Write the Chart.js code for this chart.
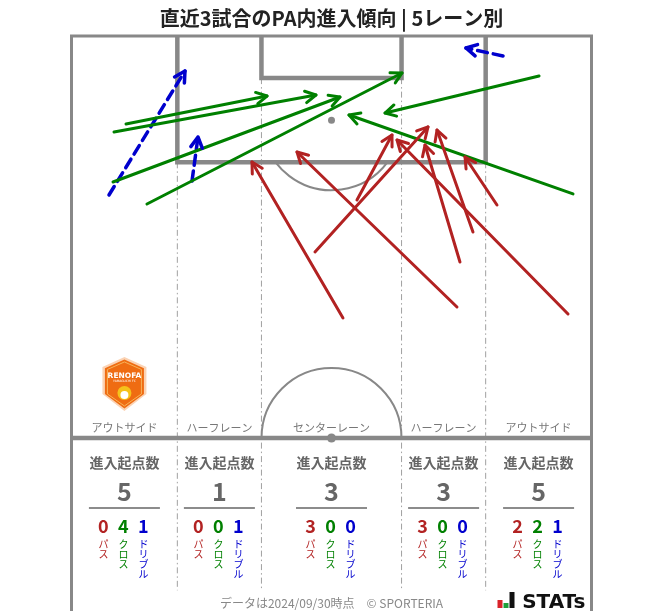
<!DOCTYPE html>
<html><head><meta charset="utf-8">
<script src="https://cdn.jsdelivr.net/npm/chart.js@4/dist/chart.umd.min.js"></script>
<style>html,body{margin:0;padding:0;background:#fff;}#wrap{width:663px;height:611px;}</style>
</head><body><div id="wrap"><canvas id="c" width="663" height="611"></canvas></div>
<script>
// ---- data (pitch metres: x across 0-68, y from goal line) ----
const lanes = ['アウトサイド','ハーフレーン','センターレーン','ハーフレーン','アウトサイド'];
const laneEdges = [0, 13.84, 24.84, 43.16, 54.16, 68];
const totalCounts = [5, 1, 3, 3, 5];
const passCounts = [0, 0, 3, 3, 2];
const crossCounts = [4, 0, 0, 0, 2];
const dribbleCounts = [1, 1, 0, 0, 1];
const kindLabels = ['パス', 'クロス', 'ドリブル'];
// [startX, startY, endX, endY]
const passArrows = [
  [35.50, 36.83, 23.60, 16.46],
  [31.84, 28.21, 46.62, 11.88],
  [37.33, 21.42, 41.91, 12.93],
  [50.41, 35.39, 29.49, 15.15],
  [50.80, 29.52, 46.23, 14.24],
  [52.50, 25.60, 47.80, 12.28],
  [55.64, 22.07, 51.46, 15.80],
  [64.93, 36.31, 42.57, 13.58]
];
const crossArrows = [
  [7.13, 11.49, 25.57, 7.84],
  [5.56, 12.54, 31.97, 7.71],
  [5.43, 19.07, 35.11, 7.97],
  [9.87, 21.94, 43.22, 4.83],
  [61.14, 5.22, 41.00, 10.06],
  [65.58, 20.63, 36.29, 10.32]
];
const dribbleArrows = [
  [4.90, 20.77, 14.84, 4.57],
  [15.76, 18.94, 16.54, 13.19],
  [56.43, 2.61, 51.59, 1.57]
];
const titleText = '直近3試合のPA内進入傾向 | 5レーン別';
const footerText = 'データは2024/09/30時点　© SPORTERIA';

// pitch geometry (metres)
const PITCH_W = 68, HALF = 52.5, BOX_W = 40.32, BOX_D = 16.5, GA_W = 18.32, GA_D = 5.5, SPOT = 11, R = 9.15;

const RED = '#b22222', GREEN = '#008000', BLUE = '#0000cd';
const FONT = '"Noto Sans CJK JP", "Noto Sans", sans-serif';

function mk(arr, color, dashed) {
  return arr.map(a => ({
    data: [{x: a[0], y: a[1]}, {x: a[2], y: a[3]}],
    showLine: true, borderColor: color, backgroundColor: color,
    borderWidth: dashed ? 3.5 : 3, borderDash: dashed ? [10, 6] : [],
    borderCapStyle: 'round', pointRadius: 0, pointHoverRadius: 0
  }));
}
const datasets = [...mk(passArrows, RED, false), ...mk(crossArrows, GREEN, false), ...mk(dribbleArrows, BLUE, true)];

const pitchPlugin = {
  id: 'pitch',
  beforeDatasetsDraw(chart) {
    const {ctx, scales: {x, y}} = chart;
    const X = v => x.getPixelForValue(v), Y = v => y.getPixelForValue(v);
    const line = (x1, y1, x2, y2) => { ctx.beginPath(); ctx.moveTo(x1, y1); ctx.lineTo(x2, y2); ctx.stroke(); };
    ctx.save();
    // lane dividers
    ctx.strokeStyle = '#a0a0a0'; ctx.lineWidth = 1; ctx.setLineDash([6, 3, 1.5, 3]);
    laneEdges.slice(1, -1).forEach((e, i) => {
      const top = (i === 0 || i === 3) ? BOX_D : GA_D;
      line(X(e), Y(top), X(e), Y(72.4));
    });
    ctx.setLineDash([]);
    ctx.strokeStyle = '#888';
    // arcs
    ctx.lineWidth = 2;
    const rpx = X(R) - X(0);
    const dy = Y(BOX_D) - Y(SPOT);
    const a = Math.asin(dy / rpx);
    ctx.beginPath(); ctx.arc(X(PITCH_W / 2), Y(SPOT), rpx, a, Math.PI - a); ctx.stroke();
    ctx.beginPath(); ctx.arc(X(PITCH_W / 2), Y(HALF), rpx, Math.PI, 2 * Math.PI); ctx.stroke();
    // outer lines
    ctx.lineWidth = 3;
    ctx.beginPath(); ctx.moveTo(X(0), Y(75.1)); ctx.lineTo(X(0), Y(0)); ctx.lineTo(X(PITCH_W), Y(0)); ctx.lineTo(X(PITCH_W), Y(75.1)); ctx.stroke();
    // halfway
    ctx.lineWidth = 4.5;
    line(X(0), Y(HALF), X(PITCH_W), Y(HALF));
    // box & goal area
    const bx1 = PITCH_W / 2 - BOX_W / 2, bx2 = PITCH_W / 2 + BOX_W / 2;
    ctx.beginPath(); ctx.moveTo(X(bx1), Y(0)); ctx.lineTo(X(bx1), Y(BOX_D)); ctx.lineTo(X(bx2), Y(BOX_D)); ctx.lineTo(X(bx2), Y(0)); ctx.stroke();
    const gx1 = PITCH_W / 2 - GA_W / 2, gx2 = PITCH_W / 2 + GA_W / 2;
    ctx.beginPath(); ctx.moveTo(X(gx1), Y(0)); ctx.lineTo(X(gx1), Y(GA_D)); ctx.lineTo(X(gx2), Y(GA_D)); ctx.lineTo(X(gx2), Y(0)); ctx.stroke();
    // spots
    ctx.fillStyle = '#888';
    ctx.beginPath(); ctx.arc(X(PITCH_W / 2), Y(SPOT), 3.5, 0, 2 * Math.PI); ctx.fill();
    ctx.beginPath(); ctx.arc(X(PITCH_W / 2), Y(HALF), 4.5, 0, 2 * Math.PI); ctx.fill();
    // lane labels
    ctx.fillStyle = '#777'; ctx.font = '11px ' + FONT; ctx.textAlign = 'center'; ctx.textBaseline = 'middle';
    lanes.forEach((l, i) => ctx.fillText(l, X((laneEdges[i] + laneEdges[i + 1]) / 2), Y(HALF) - 10));
    // crest
    drawCrest(ctx, X((laneEdges[0] + laneEdges[1]) / 2), Y(HALF) - 54);
    ctx.restore();
  },
  afterDatasetsDraw(chart) {
    const {ctx} = chart;
    ctx.save();
    chart.data.datasets.forEach((ds, i) => {
      const m = chart.getDatasetMeta(i); const p0 = m.data[0], p1 = m.data[1];
      const ang = Math.atan2(p1.y - p0.y, p1.x - p0.x), L = 12, h = 0.5;
      ctx.strokeStyle = ds.borderColor; ctx.lineWidth = ds.borderWidth; ctx.setLineDash([]);
      ctx.lineCap = 'round'; ctx.lineJoin = 'round';
      ctx.beginPath();
      ctx.moveTo(p1.x - L * Math.cos(ang - h), p1.y - L * Math.sin(ang - h));
      ctx.lineTo(p1.x, p1.y);
      ctx.lineTo(p1.x - L * Math.cos(ang + h), p1.y - L * Math.sin(ang + h));
      ctx.stroke();
    });
    ctx.restore();
  },
  afterDraw(chart) {
    const {ctx, scales: {x, y}} = chart;
    const X = v => x.getPixelForValue(v);
    const yh = y.getPixelForValue(HALF);
    ctx.save();
    ctx.textAlign = 'center'; ctx.textBaseline = 'middle';
    const cols = [RED, GREEN, BLUE];
    lanes.forEach((l, i) => {
      const cx = X((laneEdges[i] + laneEdges[i + 1]) / 2);
      ctx.fillStyle = '#666';
      ctx.font = 'bold 14px ' + FONT; ctx.fillText('進入起点数', cx, yh + 25);
      ctx.font = 'bold 25px ' + FONT; ctx.fillText(String(totalCounts[i]), cx, yh + 54);
      ctx.strokeStyle = '#666'; ctx.lineWidth = 1.5;
      ctx.beginPath(); ctx.moveTo(cx - 35.5, yh + 70); ctx.lineTo(cx + 35.5, yh + 70); ctx.stroke();
      const vals = [passCounts[i], crossCounts[i], dribbleCounts[i]];
      vals.forEach((v, k) => {
        const px = cx - 21 + k * 20;
        ctx.fillStyle = cols[k];
        ctx.font = 'bold 18px ' + FONT; ctx.fillText(String(v), px, yh + 88);
        ctx.font = '10px ' + FONT;
        [...kindLabels[k]].forEach((ch, j) => ctx.fillText(ch, px, yh + 106 + j * 10));
      });
    });
    // footer
    ctx.fillStyle = '#888'; ctx.font = '12px ' + FONT;
    ctx.fillText(footerText, X(PITCH_W / 2), chart.height - 8);
    // STATs logo
    const lx = X(PITCH_W) - 94, by = chart.height - 3;
    ctx.fillStyle = '#d9232a'; ctx.fillRect(lx, by - 8, 5, 8);
    ctx.fillStyle = '#1e9e3a'; ctx.fillRect(lx + 6, by - 5, 5, 5);
    ctx.fillStyle = '#111'; ctx.fillRect(lx + 12, by - 16, 5, 16);
    ctx.font = 'bold 20px "DejaVu Sans", sans-serif'; ctx.textAlign = 'right'; ctx.textBaseline = 'alphabetic';
    ctx.fillText('STATs', X(PITCH_W) - 6, by);
    ctx.restore();
  }
};

function drawCrest(ctx, cx, cy) {
  const w = 22, top = cy - 27, bot = cy + 27;
  const path = (s) => {
    ctx.beginPath();
    ctx.moveTo(cx, top + s);
    ctx.lineTo(cx + w - s, top + 10 + s * 0.5);
    ctx.lineTo(cx + w - s, cy + 10);
    ctx.lineTo(cx, bot - s);
    ctx.lineTo(cx - w + s, cy + 10);
    ctx.lineTo(cx - w + s, top + 10 + s * 0.5);
    ctx.closePath();
  };
  ctx.fillStyle = '#fbd3b4'; path(0); ctx.fill();
  ctx.fillStyle = '#ef6c12'; path(2.5); ctx.fill();
  ctx.strokeStyle = '#f7b35a'; ctx.lineWidth = 1; path(5); ctx.stroke();
  ctx.fillStyle = '#fff'; ctx.textAlign = 'center'; ctx.textBaseline = 'middle';
  ctx.font = 'bold 7.5px "DejaVu Sans", sans-serif'; ctx.fillText('RENOFA', cx, cy - 8);
  ctx.font = '3px "DejaVu Sans", sans-serif'; ctx.fillText('YAMAGUCHI FC', cx, cy - 3);
  ctx.fillStyle = '#f5c21b'; ctx.beginPath(); ctx.arc(cx, cy + 9, 7, 0, 2 * Math.PI); ctx.fill();
  ctx.fillStyle = '#fff'; ctx.beginPath(); ctx.arc(cx, cy + 11, 4, 0, 2 * Math.PI); ctx.fill();
}

new Chart(document.getElementById('c'), {
  type: 'scatter',
  data: {datasets},
  options: {
    responsive: false, animation: false, devicePixelRatio: 1,
    layout: {padding: {left: 71.5, right: 71.5, top: 0, bottom: 0}},
    scales: {
      x: {type: 'linear', min: 0, max: PITCH_W, display: false},
      y: {type: 'linear', min: 0, max: 75.1, reverse: true, display: false}
    },
    plugins: {
      legend: {display: false}, tooltip: {enabled: false},
      title: {display: true, text: titleText, color: '#222', font: {family: FONT, size: 20, weight: 'bold', lineHeight: 1.2}, padding: {top: 6, bottom: 6}}
    }
  },
  plugins: [pitchPlugin]
});
</script></body></html>
